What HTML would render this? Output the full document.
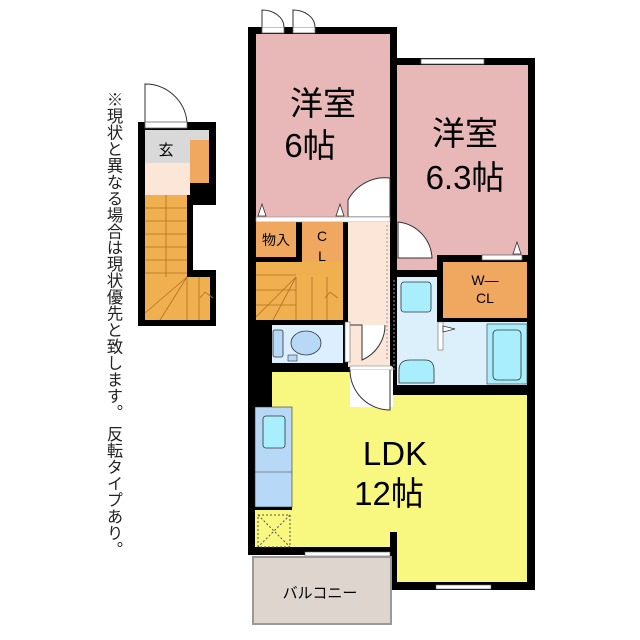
<!DOCTYPE html>
<html><head><meta charset="utf-8"><style>
html,body{margin:0;padding:0;background:#fff;}
.t{position:absolute;left:101px;top:91px;writing-mode:vertical-rl;font-family:"Liberation Sans","Noto Sans CJK JP",sans-serif;font-size:16.3px;letter-spacing:0.2px;color:#222;}
</style></head><body>
<div style="position:relative;width:640px;height:640px;overflow:hidden">
<svg width="640" height="640" viewBox="0 0 640 640" xmlns="http://www.w3.org/2000/svg" style="position:absolute;left:0;top:0">
<g font-family="Liberation Sans, Noto Sans CJK JP, sans-serif">
<!-- left small plan -->
<path d="M145 122 L145 84 A42 42 0 0 1 187 122" fill="#fff" stroke="#333" stroke-width="1"/>
<rect x="138" y="122" width="78" height="204" fill="#000"/>
<rect x="193" y="205" width="30" height="65" fill="#fff"/>
<rect x="145" y="130" width="64" height="33" fill="#d9d9d9"/>
<rect x="190" y="140" width="19" height="43" fill="#f0a860"/>
<rect x="145" y="163" width="45" height="32" fill="#fbe6d8"/>
<rect x="145" y="195" width="42" height="125" fill="#f0b050"/>
<rect x="145" y="277" width="65" height="43" fill="#f0b050"/>
<g stroke="#b07020" stroke-width="0.8">
<line x1="145" y1="208" x2="187" y2="208"/><line x1="145" y1="221" x2="187" y2="221"/><line x1="145" y1="234" x2="187" y2="234"/><line x1="145" y1="247" x2="187" y2="247"/><line x1="145" y1="260" x2="187" y2="260"/><line x1="145" y1="273" x2="187" y2="273"/>
<line x1="166" y1="195" x2="166" y2="277"/>
<line x1="145" y1="313" x2="187" y2="277"/><line x1="160" y1="320" x2="187" y2="277"/><line x1="187" y1="277" x2="187" y2="320"/><line x1="199" y1="277" x2="199" y2="320"/>
<path d="M200 298 l5 -6 l8 6" fill="none"/>
</g>
<rect x="145" y="122" width="42" height="6" fill="#fff" stroke="#666" stroke-width="0.8"/>
<text x="166" y="155" font-size="15" text-anchor="middle">玄</text>

<!-- main outline walls -->
<rect x="248" y="27" width="149" height="200" fill="#000"/>
<rect x="390" y="58" width="145" height="337" fill="#000"/>
<rect x="248" y="215" width="150" height="340" fill="#000"/>
<rect x="390" y="380" width="145" height="210" fill="#000"/>
<!-- windows top -->
<rect x="262" y="27" width="22" height="6" fill="#fff" stroke="#666" stroke-width="0.8"/>
<rect x="293" y="27" width="22" height="6" fill="#fff" stroke="#666" stroke-width="0.8"/>
<path d="M262 27 V10 A22 17 0 0 1 284 27" fill="#fff" stroke="#333"/>
<path d="M293 27 V10 A22 17 0 0 1 315 27" fill="#fff" stroke="#333"/>
<rect x="421" y="59" width="63" height="5" fill="#fff" stroke="#666" stroke-width="0.8"/>
<!-- room 6 -->
<rect x="256" y="34" width="134" height="183" fill="#e8b8b8"/>
<path d="M348 217 V200 A42 42 0 0 1 390 178 V217 Z" fill="#fff" stroke="#333"/>
<rect x="256" y="217" width="134" height="5" fill="#fff" stroke="#888" stroke-width="0.6"/>
<path d="M258 216 l4 -12 l4 12Z M336 216 l4 -12 l4 12Z" fill="#fff" stroke="#333" stroke-width="0.8"/>
<text x="323" y="115" font-size="33" text-anchor="middle">洋室</text>
<text x="310" y="157" font-size="33" text-anchor="middle">6帖</text>
<!-- room 6.3 -->
<rect x="397" y="65" width="131" height="190" fill="#e8b8b8"/>
<rect x="397" y="222" width="40" height="48" fill="#e8b8b8"/>
<path d="M398 222 A38 38 0 0 1 432 258 H398Z" fill="#fff" stroke="#333"/>
<rect x="482" y="255" width="40" height="5" fill="#fff" stroke="#666" stroke-width="0.8"/>
<path d="M513 254 l4 -12 l4 12Z" fill="#fff" stroke="#333" stroke-width="0.8"/>
<text x="465" y="145" font-size="33" text-anchor="middle">洋室</text>
<text x="465" y="189" font-size="33" text-anchor="middle">6.3帖</text>
<!-- closets -->
<rect x="256" y="222" width="40" height="35" fill="#f0a860"/>
<text x="276" y="245" font-size="14" text-anchor="middle">物入</text>
<rect x="302" y="222" width="41" height="48" fill="#f0a860"/>
<text x="322" y="241" font-size="14" text-anchor="middle">C</text>
<text x="322" y="261" font-size="14" text-anchor="middle">L</text>
<rect x="443" y="262" width="84" height="56" fill="#f0a860"/>
<text x="485" y="285" font-size="14" text-anchor="middle">W—</text>
<text x="485" y="303" font-size="14" text-anchor="middle">CL</text>
<!-- stairs 2 -->
<rect x="256" y="262" width="87" height="58" fill="#f0b050"/>
<g stroke="#b07020" stroke-width="0.8">
<line x1="256" y1="275" x2="296" y2="275"/><line x1="256" y1="290" x2="296" y2="290"/><line x1="256" y1="305" x2="296" y2="305"/>
<line x1="256" y1="317" x2="296" y2="277"/><line x1="273" y1="320" x2="296" y2="277"/><line x1="296" y1="277" x2="296" y2="320"/><line x1="312" y1="277" x2="312" y2="320"/><line x1="327" y1="277" x2="327" y2="320"/>
<path d="M325 298 l5 -6 l8 6" fill="none"/>
</g>
<!-- hallway -->
<rect x="348" y="222" width="42" height="145" fill="#fbe6d8"/>
<line x1="387" y1="225" x2="387" y2="360" stroke="#999" stroke-dasharray="2,2"/>
<path d="M348 325 H362 V360 A38 38 0 0 0 385 325" fill="#fff" stroke="#333"/>
<!-- toilet -->
<rect x="272" y="325" width="71" height="38" fill="#dcefff"/>
<rect x="345" y="322" width="5" height="40" fill="#fff" stroke="#666" stroke-width="0.6"/>
<rect x="273" y="330" width="10" height="27" rx="2" fill="#b8d8f8" stroke="#333" stroke-width="0.8"/>
<ellipse cx="306" cy="343" rx="15" ry="12" fill="#b8d8f8" stroke="#333" stroke-width="0.8"/>
<rect x="288" y="355" width="9" height="6" fill="#b8d8f8" stroke="#333" stroke-width="0.6"/>
<!-- washroom -->
<rect x="397" y="277" width="40" height="108" fill="#dcf0fc"/>
<rect x="401" y="282" width="30" height="30" rx="3" fill="#a8eefc" stroke="#333" stroke-width="0.8"/>
<path d="M399 383 V370 Q399 360 410 360 H425 Q434 360 434 370 V383Z" fill="#a8eefc" stroke="#333" stroke-width="0.8"/>
<line x1="394" y1="280" x2="394" y2="370" stroke="#999" stroke-dasharray="2,2"/>
<rect x="437" y="322" width="90" height="63" fill="#dcf0fc"/>
<rect x="487" y="324" width="40" height="60" fill="#a8eefc" stroke="#333" stroke-width="0.6"/>
<rect x="493" y="330" width="28" height="50" rx="4" fill="#a8eefc" stroke="#333" stroke-width="0.8"/>
<rect x="438" y="322" width="5" height="28" fill="#fff" stroke="#666" stroke-width="0.6"/>
<path d="M443 326 l12 3 l-12 3Z" fill="#fff" stroke="#333" stroke-width="0.8"/>
<!-- LDK -->
<path d="M272 372 H350 V407 H393 V395 H527 V582 H397 V532 H390 V547 H255 V510 H292 V407 H272Z" fill="#f8f880"/>
<rect x="272" y="372" width="78" height="37" fill="#f8f880"/>
<rect x="350" y="367" width="43" height="40" fill="#fff"/>
<rect x="350" y="366" width="42" height="4" fill="#fff" stroke="#888" stroke-width="0.6"/>
<path d="M350 370 A40 40 0 0 0 390 410 V370" fill="#fff" stroke="#333"/>
<rect x="255" y="407" width="37" height="100" fill="#b8d8f8" stroke="#333" stroke-width="0.6"/>
<line x1="255" y1="472" x2="292" y2="472" stroke="#333" stroke-width="0.6"/>
<rect x="263" y="416" width="22" height="32" rx="3" fill="#a8eefc" stroke="#333" stroke-width="0.8"/>
<rect x="258" y="515" width="32" height="32" fill="none" stroke="#555" stroke-dasharray="2,2"/>
<path d="M258 515 L290 547 M290 515 L258 547" stroke="#555" stroke-dasharray="2,2"/>
<rect x="305" y="552" width="85" height="4" fill="#fff" stroke="#666" stroke-width="0.6"/>
<rect x="436" y="585" width="55" height="4" fill="#fff" stroke="#666" stroke-width="0.6"/>
<text x="395" y="465" font-size="33" text-anchor="middle">LDK</text>
<text x="389" y="505" font-size="33" text-anchor="middle">12帖</text>
<!-- balcony -->
<rect x="253" y="557" width="138" height="67" fill="#ddd5ce" stroke="#999" stroke-width="2"/>
<text x="320" y="598" font-size="15" text-anchor="middle">バルコニー</text>
</g>
</svg>
<div class="t">※現状と異なる場合は現状優先と致します。 反転タイプあり。</div>
</div>
</body></html>
